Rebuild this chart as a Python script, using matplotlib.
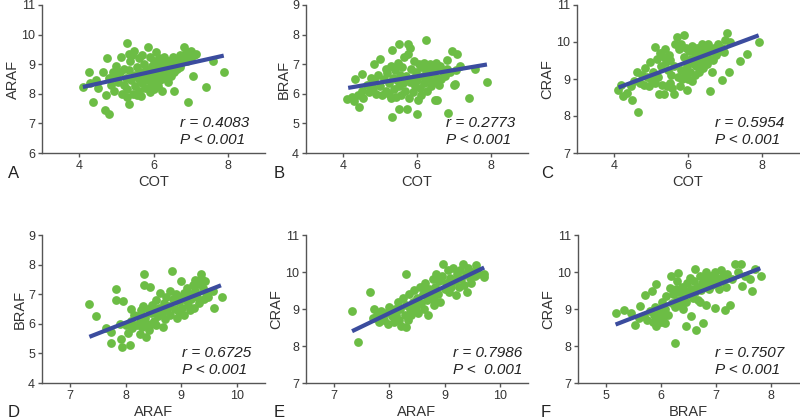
import matplotlib
matplotlib.use("Agg")
import matplotlib.pyplot as plt

plt.rcParams['font.family'] = ['Liberation Sans', 'DejaVu Sans']

# ---- data ----
# A: ARAF vs COT
a_x = [4.10, 4.27, 4.36, 4.30, 4.45, 4.50, 4.63, 4.72, 4.69, 4.81, 4.76, 4.90, 4.99, 4.85, 4.80, 4.95,
       5.00, 5.05, 5.10, 5.12, 5.15, 5.20, 5.20, 5.25, 5.28, 5.30, 5.30, 5.35, 5.35, 5.35, 5.38, 5.40,
       5.42, 5.45, 5.48, 5.50, 5.50, 5.55, 5.55, 5.60, 5.60, 5.62, 5.66, 5.65, 5.70, 5.70, 5.75, 5.75,
       5.78, 5.80, 5.84, 5.85, 5.88, 5.90, 5.90, 5.92, 5.95, 5.98, 6.00, 6.00, 6.02, 6.05, 6.07, 6.08,
       6.10, 6.12, 6.15, 6.15, 6.18, 6.20, 6.22, 6.25, 6.28, 6.29, 6.30, 6.35, 6.38, 6.40, 6.42, 6.45,
       6.48, 6.50, 6.52, 6.56, 6.55, 6.60, 6.62, 6.65, 6.70, 6.72, 6.75, 6.80, 6.83, 6.85, 6.90, 6.92,
       6.95, 7.00, 7.01, 7.06, 7.10, 7.15, 7.42, 7.60, 7.91]
a_y = [8.23, 8.75, 7.72, 8.35, 8.45, 8.20, 8.73, 7.97, 7.45, 7.32, 9.21, 8.73, 8.95, 8.30, 8.55, 8.10,
       8.60, 8.40, 8.75, 9.23, 8.00, 8.30, 8.85, 8.55, 9.73, 7.90, 8.15, 9.35, 7.65, 8.80, 9.10, 8.45,
       9.30, 8.00, 9.46, 8.65, 8.25, 8.90, 7.95, 9.20, 8.50, 8.10, 7.94, 8.75, 9.30, 8.35, 8.60, 9.00,
       8.20, 8.85, 9.57, 8.45, 8.65, 8.05, 9.25, 8.30, 8.95, 8.55, 8.15, 8.75, 9.10, 8.40, 9.40, 8.60,
       8.90, 8.25, 8.70, 9.20, 8.45, 9.00, 8.10, 8.80, 8.55, 9.23, 8.95, 8.70, 9.10, 8.40, 8.85, 9.05,
       8.60, 8.95, 9.25, 8.11, 8.75, 9.00, 8.85, 9.15, 8.90, 9.30, 9.05, 9.20, 9.57, 9.35, 9.10, 7.71,
       9.40, 9.25, 9.46, 8.61, 9.30, 9.35, 8.22, 9.10, 8.73]

# B: BRAF vs COT
b_x = [4.11, 4.25, 4.30, 4.33, 4.40, 4.44, 4.51, 4.50, 4.55, 4.65, 4.70, 4.75, 4.80, 4.83, 4.85, 4.90,
       4.95, 5.00, 5.01, 5.05, 5.10, 5.15, 5.15, 5.20, 5.25, 5.25, 5.30, 5.30, 5.32, 5.32, 5.35, 5.38,
       5.40, 5.42, 5.45, 5.48, 5.50, 5.50, 5.50, 5.55, 5.58, 5.60, 5.62, 5.65, 5.68, 5.70, 5.73, 5.75,
       5.77, 5.78, 5.80, 5.82, 5.85, 5.88, 5.90, 5.92, 5.95, 5.98, 6.00, 6.00, 6.02, 6.05, 6.08, 6.10,
       6.12, 6.15, 6.18, 6.20, 6.23, 6.25, 6.28, 6.30, 6.32, 6.35, 6.38, 6.40, 6.42, 6.45, 6.48, 6.50,
       6.52, 6.55, 6.55, 6.60, 6.62, 6.65, 6.70, 6.75, 6.80, 6.81, 6.84, 6.90, 6.95, 7.00, 7.02, 7.05,
       7.08, 7.15, 7.40, 7.58, 7.89]
b_y = [5.81, 5.90, 5.75, 6.51, 5.95, 5.55, 6.68, 6.10, 5.85, 6.30, 6.05, 6.55, 6.20, 7.00, 6.45, 6.00,
       6.65, 6.25, 7.17, 5.95, 6.50, 6.85, 6.10, 6.70, 6.00, 6.35, 6.95, 5.85, 5.21, 7.48, 6.55, 6.15,
       6.80, 5.90, 6.45, 7.05, 5.50, 6.25, 7.69, 6.65, 5.95, 6.90, 6.35, 7.25, 6.10, 6.60, 5.50, 7.35,
       7.69, 5.85, 6.40, 7.55, 6.85, 6.05, 6.55, 7.10, 6.25, 6.75, 5.32, 6.45, 5.80, 7.00, 6.20, 6.90,
       5.95, 6.60, 7.05, 6.35, 7.82, 6.80, 6.10, 6.95, 6.50, 7.00, 6.25, 6.70, 6.90, 6.40, 5.79, 6.85,
       7.05, 5.80, 6.55, 6.30, 6.95, 6.50, 6.75, 6.60, 6.85, 7.13, 5.34, 6.75, 7.46, 6.30, 6.33, 6.80,
       7.35, 6.95, 5.86, 6.85, 6.39]

# C: CRAF vs COT
c_x = [4.12, 4.20, 4.25, 4.36, 4.48, 4.45, 4.55, 4.61, 4.66, 4.70, 4.75, 4.80, 4.85, 4.90, 4.95, 4.98,
       5.00, 5.05, 5.10, 5.11, 5.15, 5.20, 5.22, 5.25, 5.28, 5.30, 5.34, 5.35, 5.38, 5.40, 5.42, 5.45,
       5.48, 5.50, 5.52, 5.55, 5.58, 5.61, 5.62, 5.65, 5.70, 5.72, 5.75, 5.78, 5.80, 5.82, 5.85, 5.88,
       5.90, 5.92, 5.95, 5.97, 5.98, 6.00, 6.02, 6.05, 6.08, 6.10, 6.12, 6.15, 6.18, 6.20, 6.22, 6.25,
       6.28, 6.30, 6.32, 6.35, 6.38, 6.40, 6.42, 6.45, 6.48, 6.50, 6.52, 6.55, 6.58, 6.60, 6.62, 6.64,
       6.68, 6.70, 6.75, 6.80, 6.85, 6.91, 6.92, 6.96, 7.00, 7.05, 7.10, 7.14, 7.41, 7.59, 7.91]
c_y = [8.69, 8.85, 8.55, 8.62, 8.44, 8.80, 8.95, 9.19, 8.11, 8.90, 9.10, 8.85, 9.30, 9.05, 8.80, 9.46,
       9.00, 9.20, 8.90, 9.86, 9.55, 9.05, 8.60, 9.70, 9.35, 8.85, 8.60, 9.60, 9.80, 9.45, 8.80, 9.25,
       9.65, 8.90, 9.50, 9.10, 8.75, 8.60, 9.35, 9.95, 10.14, 9.05, 9.80, 8.80, 9.25, 9.95, 9.00, 10.18,
       9.60, 9.15, 9.85, 8.69, 9.35, 9.00, 9.75, 9.20, 9.55, 8.95, 9.90, 9.40, 9.10, 9.70, 9.35, 9.85,
       9.50, 9.20, 9.75, 9.45, 9.95, 9.30, 9.65, 9.55, 9.85, 9.40, 9.70, 9.95, 9.55, 8.67, 9.75, 9.19,
       9.50, 9.85, 9.65, 9.95, 9.75, 8.96, 9.85, 9.73, 10.05, 10.23, 9.19, 10.00, 9.49, 9.68, 10.00]

# D: BRAF vs ARAF
d_x = [7.35, 7.46, 7.64, 7.73, 7.73, 7.83, 7.83, 7.95, 7.92, 7.93, 8.07, 7.90, 8.00, 8.05, 8.10, 8.12,
       8.15, 8.20, 8.22, 8.25, 8.25, 8.28, 8.30, 8.32, 8.33, 8.33, 8.35, 8.36, 8.38, 8.40, 8.42, 8.44,
       8.45, 8.48, 8.50, 8.52, 8.55, 8.55, 8.58, 8.60, 8.62, 8.65, 8.67, 8.68, 8.70, 8.72, 8.75, 8.78,
       8.80, 8.80, 8.83, 8.85, 8.88, 8.90, 8.92, 8.95, 8.99, 9.00, 9.02, 9.05, 9.05, 9.08, 9.10, 9.12,
       9.15, 9.18, 9.20, 9.22, 9.24, 9.25, 9.28, 9.30, 9.32, 9.35, 9.36, 9.38, 9.40, 9.42, 9.45, 9.48,
       9.57, 9.58, 9.72, 8.10, 8.45, 8.70, 8.95, 9.15]
d_y = [6.67, 6.28, 5.85, 5.72, 5.35, 7.17, 6.81, 6.77, 5.48, 5.20, 5.29, 6.00, 5.95, 5.70, 6.10, 5.85,
       6.30, 5.95, 6.25, 5.65, 6.05, 6.45, 5.90, 6.60, 7.68, 7.30, 6.20, 5.55, 6.00, 6.50, 5.80, 7.26,
       6.35, 6.65, 6.10, 6.40, 5.95, 6.80, 6.25, 6.55, 7.05, 6.35, 5.88, 6.70, 6.15, 6.90, 6.45, 6.60,
       7.10, 6.30, 7.80, 6.85, 6.50, 7.00, 6.20, 6.75, 7.46, 6.90, 6.55, 6.30, 7.05, 6.80, 7.20, 6.65,
       7.00, 6.85, 7.30, 6.55, 7.48, 7.10, 6.90, 7.35, 6.70, 7.55, 7.68, 7.20, 6.85, 7.45, 7.05, 6.90,
       7.12, 6.55, 6.90, 6.50, 6.00, 6.55, 6.40, 6.45]

# E: CRAF vs ARAF
e_x = [7.33, 7.44, 7.66, 7.70, 7.72, 7.78, 7.82, 7.85, 7.90, 7.95, 7.98, 8.00, 8.05, 8.08, 8.10, 8.12,
       8.15, 8.18, 8.20, 8.22, 8.25, 8.28, 8.30, 8.31, 8.31, 8.33, 8.35, 8.38, 8.40, 8.42, 8.45, 8.48,
       8.50, 8.52, 8.55, 8.58, 8.60, 8.62, 8.65, 8.68, 8.70, 8.72, 8.75, 8.78, 8.80, 8.82, 8.85, 8.88,
       8.90, 8.92, 8.95, 8.97, 9.00, 9.02, 9.05, 9.08, 9.10, 9.12, 9.15, 9.18, 9.21, 9.22, 9.25, 9.28,
       9.30, 9.33, 9.35, 9.38, 9.40, 9.42, 9.45, 9.48, 9.50, 9.55, 9.57, 9.60, 9.71, 9.71, 8.60, 8.45,
       8.80]
e_y = [8.95, 8.11, 9.45, 8.75, 9.00, 8.85, 8.65, 8.95, 8.70, 8.90, 8.60, 9.05, 8.80, 8.65, 9.00, 8.85,
       9.20, 8.70, 9.00, 8.55, 9.30, 8.85, 9.10, 9.95, 8.50, 8.70, 9.40, 9.00, 8.85, 9.20, 9.50, 9.05,
       9.30, 8.90, 9.60, 9.15, 9.40, 9.00, 9.70, 9.25, 8.83, 9.55, 9.35, 9.80, 9.10, 9.60, 9.95, 9.40,
       9.75, 9.20, 9.90, 10.22, 9.55, 9.70, 10.05, 9.45, 9.85, 9.60, 10.10, 9.75, 9.38, 9.95, 9.60, 10.05,
       9.80, 10.22, 9.65, 9.95, 9.45, 10.10, 9.85, 9.70, 10.00, 9.90, 10.18, 9.95, 9.95, 9.86, 9.60, 9.00,
       9.25]

# F: CRAF vs BRAF
f_x = [5.18, 5.34, 5.46, 5.54, 5.62, 5.71, 5.84, 5.91, 5.60, 5.70, 5.75, 5.80, 5.85, 5.88, 5.90, 5.92,
       5.95, 5.98, 6.00, 6.02, 6.05, 6.07, 6.08, 6.10, 6.12, 6.16, 6.19, 6.20, 6.22, 6.25, 6.25, 6.28,
       6.30, 6.31, 6.33, 6.35, 6.38, 6.40, 6.42, 6.45, 6.46, 6.48, 6.50, 6.52, 6.55, 6.55, 6.58, 6.60,
       6.61, 6.62, 6.64, 6.65, 6.68, 6.70, 6.72, 6.75, 6.76, 6.78, 6.80, 6.81, 6.82, 6.85, 6.88, 6.90,
       6.92, 6.95, 6.98, 6.98, 7.00, 7.02, 7.05, 7.08, 7.10, 7.12, 7.16, 7.18, 7.20, 7.25, 7.28, 7.34,
       7.40, 7.45, 7.46, 7.52, 7.61, 7.65, 7.70, 7.82, 6.40, 6.70, 6.30]
f_y = [8.89, 8.98, 8.89, 8.58, 9.07, 9.39, 9.48, 9.67, 8.75, 8.80, 8.70, 8.95, 8.65, 8.85, 9.05, 8.55,
       8.75, 8.95, 8.65, 9.20, 8.80, 8.62, 9.00, 9.35, 8.85, 9.57, 9.89, 9.15, 9.40, 8.09, 9.05, 9.55,
       9.25, 9.98, 9.45, 9.10, 9.60, 9.30, 9.50, 9.20, 8.53, 9.70, 9.40, 9.85, 8.80, 9.55, 9.30, 9.75,
       10.07, 9.45, 8.44, 9.60, 9.25, 9.90, 9.50, 9.70, 8.62, 9.85, 9.60, 9.12, 10.00, 9.75, 9.55, 9.90,
       9.65, 9.80, 9.03, 10.00, 9.70, 9.85, 9.55, 10.05, 9.75, 9.90, 8.98, 9.60, 9.95, 9.12, 9.80, 10.21,
       10.00, 10.21, 9.62, 9.90, 9.80, 9.48, 10.07, 9.89, 9.00, 9.20, 9.75]

# fitted line end points (x0, x1), (y0, y1)
fit_x = [(4.10, 7.89), (4.14, 7.89), (4.12, 7.91), (7.35, 9.71), (7.33, 9.71), (5.18, 7.80)]
fit_y = [(8.23, 9.29), (6.20, 6.99), (8.77, 10.18), (5.56, 7.30), (8.40, 10.12), (8.58, 10.10)]

r_text = ['r = 0.4083', 'r = 0.2773', 'r = 0.5954', 'r = 0.6725', 'r = 0.7986', 'r = 0.7507']
p_text = ['P < 0.001', 'P < 0.001', 'P < 0.001', 'P < 0.001', 'P <  0.001', 'P < 0.001']
letters = ['A', 'B', 'C', 'D', 'E', 'F']
xlabels = ['COT', 'COT', 'COT', 'ARAF', 'ARAF', 'BRAF']
ylabels = ['ARAF', 'BRAF', 'CRAF', 'BRAF', 'CRAF', 'CRAF']
xs = [a_x, b_x, c_x, d_x, e_x, f_x]
ys = [a_y, b_y, c_y, d_y, e_y, f_y]
xlims = [(3, 9), (3, 9), (3, 9), (6.5, 10.5), (6.5, 10.5), (4.5, 8.5)]
ylims = [(6, 11), (4, 9), (7, 11), (4, 9), (7, 11), (7, 11)]
xticks = [[4, 6, 8], [4, 6, 8], [4, 6, 8], [7, 8, 9, 10], [7, 8, 9, 10], [5, 6, 7, 8]]

green = '#6cbd45'
blue = '#3b4c9e'
grey = '#555555'

fig = plt.figure(figsize=(8, 4.19), dpi=100)
W, H = 800, 419
# axes boxes in pixels: left, top, right, bottom
boxes = [(42, 5, 265, 153), (306, 5, 528, 153), (577, 5, 799, 153),
         (42, 235, 265, 383), (306, 235, 528, 383), (578, 235, 799, 383)]
letter_pos = [(8, 173), (274, 173), (541, 173), (8, 412), (274, 412), (541, 412)]
txt_x = [0.62, 0.63, 0.62, 0.63, 0.66, 0.62]

for i in range(6):
    l, t, r, b = boxes[i]
    ax = fig.add_axes([l / W, 1 - b / H, (r - l) / W, (b - t) / H])
    ax.scatter(xs[i], ys[i], s=40, color=green, linewidths=0, zorder=2)
    ax.plot(fit_x[i], fit_y[i], color=blue, lw=3, solid_capstyle='butt', zorder=3)
    ax.set_xlim(*xlims[i])
    ax.set_ylim(*ylims[i])
    ax.set_xticks(xticks[i])
    ax.set_yticks(range(int(ylims[i][0]), int(ylims[i][1]) + 1))
    for s in ['top', 'right']:
        ax.spines[s].set_visible(False)
    for s in ['left', 'bottom']:
        ax.spines[s].set_color(grey)
        ax.spines[s].set_linewidth(1.0)
    ax.tick_params(colors='#333333', labelsize=9, length=3, width=1, color=grey, pad=2)
    ax.set_xlabel(xlabels[i], fontsize=10.5, color='#333333', labelpad=2)
    ax.set_ylabel(ylabels[i], fontsize=10.5, color='#333333', labelpad=1)
    ax.text(txt_x[i], 0.20, r_text[i], transform=ax.transAxes, fontsize=11,
            style='italic', color='#222222', va='center')
    ax.text(txt_x[i], 0.085, p_text[i], transform=ax.transAxes, fontsize=11,
            style='italic', color='#222222', va='center')
    fig.text(letter_pos[i][0] / W, 1 - letter_pos[i][1] / H, letters[i], fontsize=12,
             color='#222222', va='center', ha='left')

fig.savefig('out.png', dpi=100)
